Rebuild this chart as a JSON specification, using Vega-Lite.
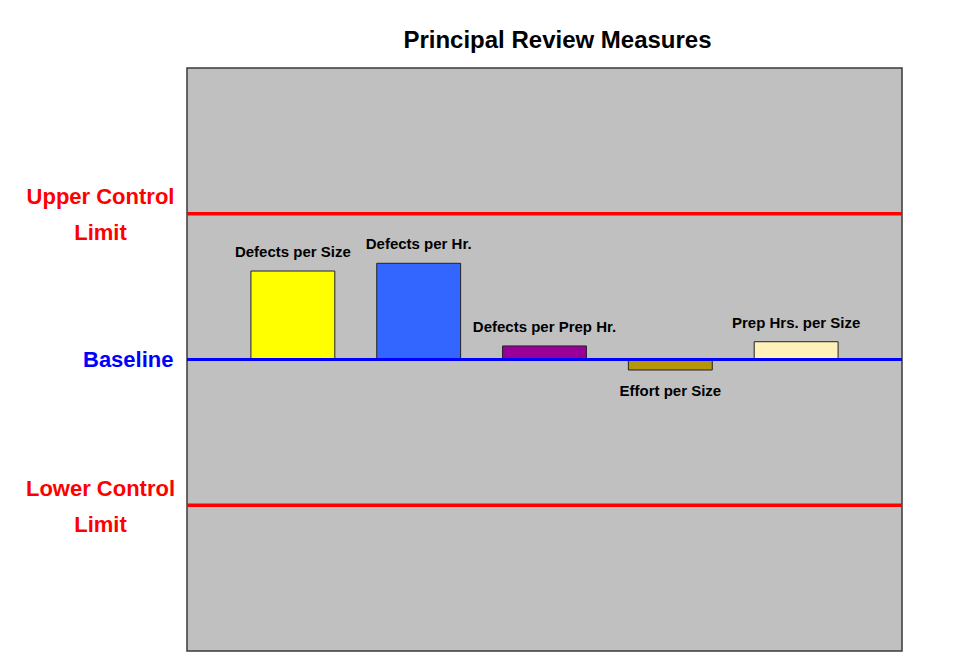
{
  "$schema": "https://vega.github.io/schema/vega-lite/v6.json",
  "width": 715,
  "height": 583,
  "autosize": "none",
  "padding": {"left": 187, "top": 68, "right": 63, "bottom": 17},
  "background": "white",
  "config": {
    "view": {"fill": "#C0C0C0", "stroke": "#3a3a3a", "strokeWidth": 1.5},
    "font": "Liberation Sans, Arial, sans-serif"
  },
  "title": {
    "text": "Principal Review Measures",
    "fontSize": 24,
    "fontWeight": "bold",
    "color": "black",
    "anchor": "middle",
    "dx": 13,
    "offset": 15,
    "font": "Liberation Sans, Arial, sans-serif"
  },
  "datasets": {
    "measures": [
      {"measure": "Defects per Size", "value": 0.607},
      {"measure": "Defects per Hr.", "value": 0.66},
      {"measure": "Defects per Prep Hr.", "value": 0.093},
      {"measure": "Effort per Size", "value": -0.072},
      {"measure": "Prep Hrs. per Size", "value": 0.122}
    ],
    "limits": [
      {"limit": "Upper Control Limit", "level": 1},
      {"limit": "Lower Control Limit", "level": -1}
    ],
    "baseline": [
      {"limit": "Baseline", "level": 0}
    ]
  },
  "layer": [
    {
      "data": {"name": "measures"},
      "mark": {"type": "bar", "stroke": "#222222", "strokeWidth": 1},
      "encoding": {
        "x": {
          "field": "measure",
          "type": "nominal",
          "sort": null,
          "scale": {"paddingInner": 0.3333, "paddingOuter": 0.508},
          "axis": null
        },
        "y": {
          "field": "value",
          "type": "quantitative",
          "scale": {"domain": [-2, 2], "nice": false, "zero": false},
          "axis": {
            "title": null,
            "values": [-1, 0, 1],
            "ticks": false,
            "tickSize": 0,
            "domain": false,
            "grid": false,
            "labelOverlap": false,
            "labelBound": false,
            "labelFlush": false,
            "labelLimit": 0,
            "labelFontSize": 22,
            "labelFontWeight": "bold",
            "labelLineHeight": 36,
            "labelBaseline": "middle",
            "labelExpr": "datum.value == 1 ? ['Upper Control', 'Limit'] : (datum.value == -1 ? ['Lower Control', 'Limit'] : 'Baseline')",
            "labelColor": {"condition": {"test": "datum.value == 0", "value": "#0000FF"}, "value": "#FF0000"},
            "labelAlign": {"condition": {"test": "datum.value == 0", "value": "right"}, "value": "center"},
            "labelPadding": {"condition": {"test": "datum.value == 0", "value": 14}, "value": 87},
            "labelOffset": {"condition": {"test": "datum.value == 0", "value": 0}, "value": -17}
          }
        },
        "y2": {"datum": 0},
        "color": {
          "field": "measure",
          "type": "nominal",
          "scale": {
            "domain": ["Defects per Size", "Defects per Hr.", "Defects per Prep Hr.", "Effort per Size", "Prep Hrs. per Size"],
            "range": ["#FFFF00", "#3366FF", "#990099", "#B8960A", "#FFF2B9"]
          },
          "legend": null
        }
      }
    },
    {
      "data": {"name": "measures"},
      "transform": [{"filter": "datum.value >= 0"}],
      "mark": {"type": "text", "fontSize": 15, "fontWeight": "bold", "color": "black", "baseline": "alphabetic", "dy": -14},
      "encoding": {
        "x": {"field": "measure", "type": "nominal", "sort": null},
        "y": {"field": "value", "type": "quantitative"},
        "text": {"field": "measure"}
      }
    },
    {
      "data": {"name": "measures"},
      "transform": [{"filter": "datum.value < 0"}],
      "mark": {"type": "text", "fontSize": 15, "fontWeight": "bold", "color": "black", "baseline": "alphabetic", "dy": 26},
      "encoding": {
        "x": {"field": "measure", "type": "nominal", "sort": null},
        "y": {"field": "value", "type": "quantitative"},
        "text": {"field": "measure"}
      }
    },
    {
      "data": {"name": "limits"},
      "mark": {"type": "rule", "color": "#FF0000", "strokeWidth": 3.5},
      "encoding": {"y": {"field": "level", "type": "quantitative"}}
    },
    {
      "data": {"name": "baseline"},
      "mark": {"type": "rule", "color": "#0000FF", "strokeWidth": 3},
      "encoding": {"y": {"field": "level", "type": "quantitative"}}
    }
  ]
}
